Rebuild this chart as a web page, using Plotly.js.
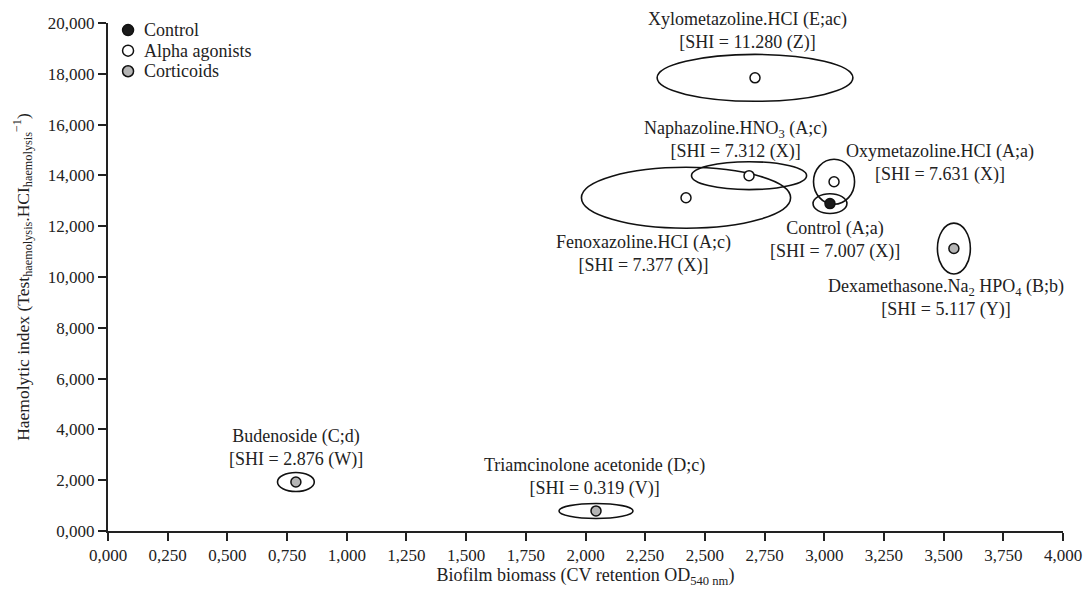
<!DOCTYPE html>
<html>
<head>
<meta charset="utf-8">
<script src="https://cdn.plot.ly/plotly-3.0.1.min.js"></script>
<style>html,body{margin:0;padding:0;background:#fff;}#chart{width:1084px;height:594px;}</style>
</head>
<body>
<div id="chart"></div>
<script>
// ---- data ----
const names = ["Xylometazoline.HCI (E;ac)", "Naphazoline.HNO<sub>3</sub> (A;c)", "Fenoxazoline.HCI (A;c)",
  "Oxymetazoline.HCI (A;a)", "Control (A;a)", "Dexamethasone.Na<sub>2</sub> HPO<sub>4</sub> (B;b)",
  "Budenoside (C;d)", "Triamcinolone acetonide (D;c)"];
const shi = ["[SHI = 11.280 (Z)]", "[SHI = 7.312 (X)]", "[SHI = 7.377 (X)]", "[SHI = 7.631 (X)]",
  "[SHI = 7.007 (X)]", "[SHI = 5.117 (Y)]", "[SHI = 2.876 (W)]", "[SHI = 0.319 (V)]"];
const groups = ["Alpha agonists", "Alpha agonists", "Alpha agonists", "Alpha agonists",
  "Control", "Corticoids", "Corticoids", "Corticoids"];
const biofilm = [2.71, 2.685, 2.421, 3.041, 3.024, 3.543, 0.787, 2.044];
const haemo = [17.84, 13.99, 13.12, 13.75, 12.89, 11.12, 1.93, 0.79];
const biofilmSD = [0.41, 0.241, 0.438, 0.086, 0.071, 0.069, 0.077, 0.155];
const haemoSD = [0.923, 0.55, 1.2, 0.885, 0.39, 1.0, 0.375, 0.295];
const xTicks = [0,0.25,0.5,0.75,1,1.25,1.5,1.75,2,2.25,2.5,2.75,3,3.25,3.5,3.75,4];
const yTicks = [0,2,4,6,8,10,12,14,16,18,20];
const groupNames = ["Control", "Alpha agonists", "Corticoids"];

// ---- styles ----
const FONT = "Liberation Serif, Times New Roman, serif";
const groupFill = {"Control": "#1a1a1a", "Alpha agonists": "#ffffff", "Corticoids": "#b5b5b5"};
// label pixel offsets relative to each point
const labelShift = [[-8, 47], [-14, 36], [-43, -56], [106, 19], [5, -36], [-8, -49], [0, 34], [-2, 34]];
// legend placement (paper coords)
const legendX = 0.021, legendY0 = 0.986, legendStep = 0.0405;

const traces = groupNames.map(g => {
  const idx = groups.map((v, i) => v === g ? i : -1).filter(i => i >= 0);
  return {
    type: "scatter", mode: "markers", name: g,
    x: idx.map(i => biofilm[i]), y: idx.map(i => haemo[i]),
    marker: {size: 10, color: groupFill[g], line: {color: "#111", width: 1.5}},
    hoverinfo: "skip", showlegend: false
  };
});

const shapes = biofilm.map((x, i) => ({
  type: "circle", xref: "x", yref: "y", layer: "below",
  x0: x - biofilmSD[i], x1: x + biofilmSD[i],
  y0: haemo[i] - haemoSD[i], y1: haemo[i] + haemoSD[i],
  line: {color: "#111", width: 1.6}
}));

const annotations = biofilm.map((x, i) => ({
  xref: "x", yref: "y", x: x, y: haemo[i], showarrow: false,
  text: names[i] + "<br>" + shi[i],
  xshift: labelShift[i][0], yshift: labelShift[i][1],
  xanchor: "center", yanchor: "middle", align: "center",
  font: {family: FONT, size: 18, color: "#222"}
}));

// legend drawn as pixel-sized circles + text
groupNames.forEach((g, k) => {
  const ly = legendY0 - k * legendStep;
  shapes.push({
    type: "circle", xref: "paper", yref: "paper", xsizemode: "pixel", ysizemode: "pixel",
    xanchor: legendX, yanchor: ly, x0: -5.5, x1: 5.5, y0: -5.5, y1: 5.5,
    fillcolor: groupFill[g], line: {color: "#111", width: 1.5}, layer: "above"
  });
  annotations.push({
    xref: "paper", yref: "paper", x: legendX, y: ly, xshift: 14, showarrow: false,
    text: g, xanchor: "left", yanchor: "middle",
    font: {family: FONT, size: 18, color: "#222"}
  });
});

const axisCommon = {
  showgrid: false, zeroline: false, showline: true, linecolor: "#222", linewidth: 2,
  ticks: "outside", ticklen: 8, tickwidth: 2, tickcolor: "#222",
  tickfont: {family: FONT, size: 17, color: "#222"}, tickformat: ".3f", fixedrange: true
};

const layout = {
  width: 1084, height: 594,
  margin: {l: 108, r: 21, t: 23, b: 63},
  paper_bgcolor: "#fff", plot_bgcolor: "#fff",
  separators: ",.",
  showlegend: false,
  xaxis: Object.assign({}, axisCommon, {range: [0, 4], tickvals: xTicks,
    title: {text: "Biofilm biomass (CV retention OD<sub>540 nm</sub>)", font: {family: FONT, size: 18, color: "#222"}, standoff: 4}}),
  yaxis: Object.assign({}, axisCommon, {range: [0, 20], tickvals: yTicks,
    title: {text: "Haemolytic index (Test<sub>haemolysis</sub>.HCI<sub>haemolysis</sub><sup>−1</sup>)", font: {family: FONT, size: 17.5, color: "#222"}, standoff: 14}}),
  shapes: shapes,
  annotations: annotations
};

Plotly.newPlot("chart", traces, layout, {displayModeBar: false, staticPlot: true});
</script>
</body>
</html>
